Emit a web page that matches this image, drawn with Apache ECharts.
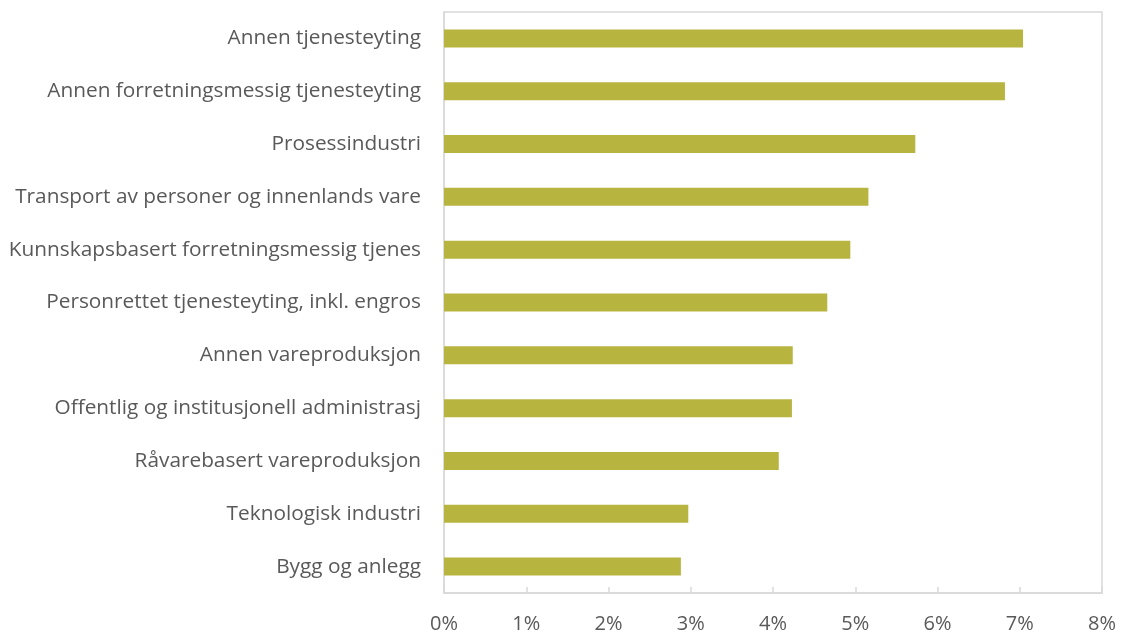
<!DOCTYPE html>
<html>
<head>
<meta charset="utf-8">
<script src="https://cdn.jsdelivr.net/npm/echarts@6/dist/echarts.min.js"></script>
<style>
  html, body { margin: 0; padding: 0; background: #ffffff; }
  #chart { width: 1122px; height: 637px; }
</style>
</head>
<body>
<div id="chart"></div>
<script>
// Næringer, listed top to bottom
const categories = [
  'Annen tjenesteyting',
  'Annen forretningsmessig tjenesteyting',
  'Prosessindustri',
  'Transport av personer og innenlands vare',
  'Kunnskapsbasert forretningsmessig tjenes',
  'Personrettet tjenesteyting, inkl. engros',
  'Annen vareproduksjon',
  'Offentlig og institusjonell administrasj',
  'Råvarebasert vareproduksjon',
  'Teknologisk industri',
  'Bygg og anlegg'
];

// Andel, in percent
const values = [7.04, 6.82, 5.73, 5.16, 4.94, 4.66, 4.24, 4.23, 4.07, 2.97, 2.88];

// Value axis range and step (percent)
const axisMin = 0;
const axisMax = 8;
const axisStep = 1;

const textColor = '#595959';
const frameColor = '#d9d9d9';
const barColor = '#b7b43f';
const font = '"Open Sans", "Liberation Sans", sans-serif';

const chart = echarts.init(document.getElementById('chart'), null, { renderer: 'canvas' });

chart.setOption({
  animation: false,
  backgroundColor: '#ffffff',
  grid: {
    left: 444,
    right: 20,
    top: 12,
    bottom: 44,
    show: true,
    borderColor: frameColor,
    borderWidth: 1.5,
    backgroundColor: 'transparent'
  },
  xAxis: {
    type: 'value',
    min: axisMin,
    max: axisMax,
    interval: axisStep,
    axisLine: { show: true, lineStyle: { color: frameColor, width: 1.5 } },
    axisTick: { show: true, inside: true, length: 6, lineStyle: { color: frameColor, width: 1.5 } },
    splitLine: { show: false },
    axisLabel: {
      color: textColor,
      fontFamily: font,
      fontSize: 20,
      margin: 21,
      formatter: v => v + '%'
    }
  },
  yAxis: {
    type: 'category',
    data: categories,
    inverse: true,
    axisLine: { show: true, lineStyle: { color: frameColor, width: 1.5 } },
    axisTick: { show: false },
    splitLine: { show: false },
    axisLabel: {
      color: textColor,
      fontFamily: font,
      fontSize: 20.8,
      margin: 23
    }
  },
  series: [{
    type: 'bar',
    data: values,
    barWidth: 18,
    itemStyle: { color: barColor },
    silent: true
  }]
});
</script>
</body>
</html>
